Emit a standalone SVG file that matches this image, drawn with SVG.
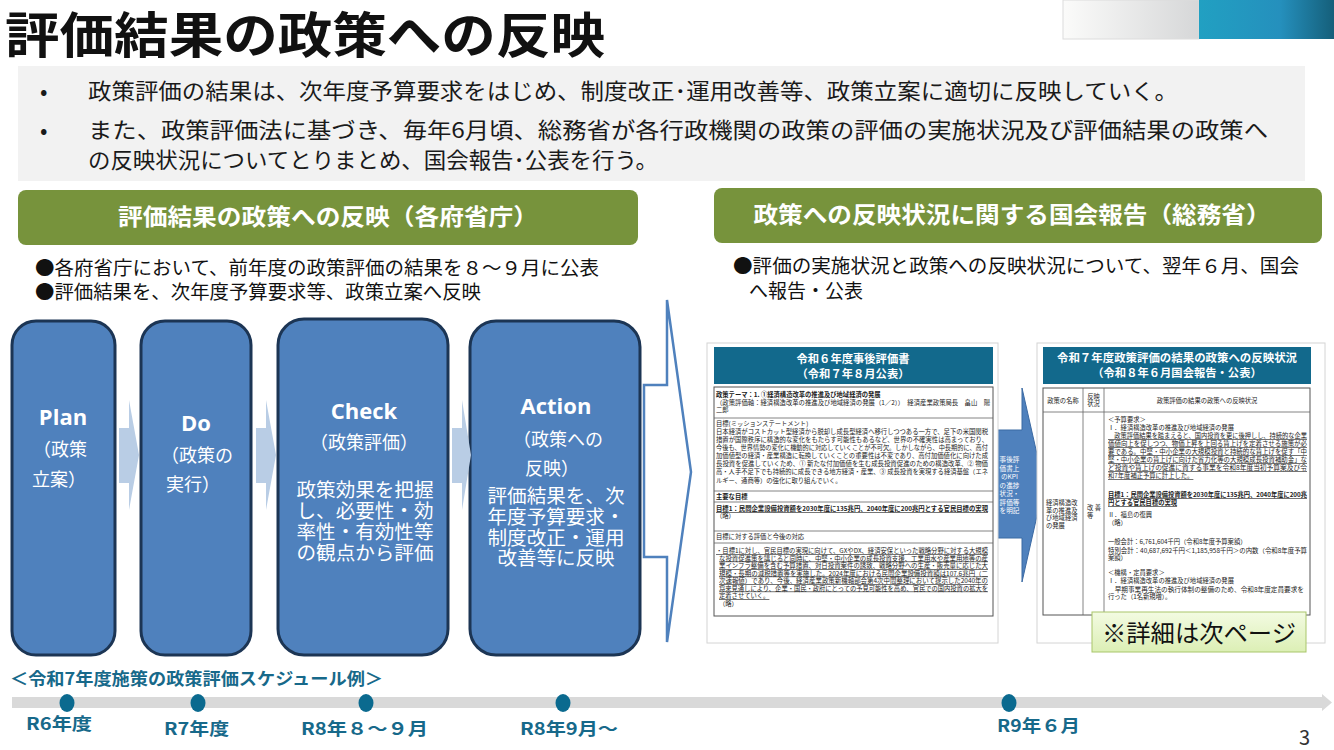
<svg xmlns="http://www.w3.org/2000/svg" width="1334" height="750" viewBox="0 0 1334 750">
<defs>
<linearGradient id="gL" x1="0" x2="1"><stop offset="0" stop-color="#fbfbfa"/><stop offset="1" stop-color="#d6d7d8"/></linearGradient>
<linearGradient id="gR" x1="0" x2="1"><stop offset="0" stop-color="#21a0c2"/><stop offset="0.6" stop-color="#2590bd"/><stop offset="1" stop-color="#155f7a"/></linearGradient>
<linearGradient id="gG" x1="0" y1="0" x2="0" y2="1"><stop offset="0" stop-color="#f3fbe2"/><stop offset="1" stop-color="#dcefb5"/></linearGradient>
<style>
text{font-family:"Noto Sans CJK JP","Noto Sans",sans-serif}
.b{font-weight:bold}
.pbox{fill:#4f81bd;stroke:#1c3554;stroke-width:3}
.pa{fill:#b9cde5}
.pt{fill:#fff;font-size:18px}
.pe{fill:#fff;font-size:22px;font-weight:bold;font-family:"Open Sans","Noto Sans",sans-serif}
.pb{fill:#fff;font-size:19px}
.hd{fill:#77933c}
.hdt{fill:#fff;font-size:23px;font-weight:bold}
.bl{font-size:19px;fill:#111}
.sm{font-size:22px;fill:#1a1a1a}
.tl{fill:#17698a;font-weight:bold;font-size:17px}
.dot{fill:#0b6a8f}
.doc{fill:#fff;stroke:#555;stroke-width:1}
.frame{fill:#fff;stroke:#d4d4d4;stroke-width:1}
.dh{fill:#12698c}
.dht{fill:#fff;font-size:11.3px;font-weight:bold}
.s{font-size:6.3px;fill:#222}
.ln{stroke:#666;stroke-width:0.8}
.u{text-decoration:underline}
</style>
</defs>

<!-- top bar -->
<g id="topbar">
<rect x="1063" y="0" width="136" height="39" fill="url(#gL)" stroke="#dcdcdc" stroke-width="1"/>
<rect x="1199" y="0" width="135" height="39" fill="url(#gR)"/>
</g>

<g id="title">
<text x="5" y="53" font-size="49" class="b" fill="#111" textLength="600" lengthAdjust="spacingAndGlyphs">評価結果の政策への反映</text>
</g>

<g id="summary">
<rect x="18" y="66" width="1287" height="115" fill="#f2f2f2"/>
<text x="40" y="99" class="sm">•</text>
<text x="88" y="99" class="sm" textLength="1090" lengthAdjust="spacingAndGlyphs">政策評価の結果は、次年度予算要求をはじめ、制度改正･運用改善等、政策立案に適切に反映していく。</text>
<text x="40" y="138" class="sm">•</text>
<text x="88" y="138" class="sm" textLength="1180" lengthAdjust="spacingAndGlyphs">また、政策評価法に基づき、毎年6月頃、総務省が各行政機関の政策の評価の実施状況及び評価結果の政策へ</text>
<text x="88" y="168" class="sm" textLength="570" lengthAdjust="spacingAndGlyphs">の反映状況についてとりまとめ、国会報告･公表を行う。</text>
</g>

<g id="header-left">
<rect x="18" y="190" width="620" height="55" rx="8" class="hd"/>
<text x="328" y="225" class="hdt" text-anchor="middle" textLength="420" lengthAdjust="spacingAndGlyphs">評価結果の政策への反映（各府省庁）</text>
<text x="35" y="275" class="bl" textLength="564" lengthAdjust="spacingAndGlyphs">●各府省庁において、前年度の政策評価の結果を８～９月に公表</text>
<text x="35" y="299" class="bl" textLength="446" lengthAdjust="spacingAndGlyphs">●評価結果を、次年度予算要求等、政策立案へ反映</text>
</g>

<g id="header-right">
<rect x="714" y="188" width="608" height="55" rx="8" class="hd"/>
<text x="1012" y="223" class="hdt" text-anchor="middle" textLength="517" lengthAdjust="spacingAndGlyphs">政策への反映状況に関する国会報告（総務省）</text>
<text x="733" y="273" class="bl" textLength="566" lengthAdjust="spacingAndGlyphs">●評価の実施状況と政策への反映状況について、翌年６月、国会</text>
<text x="749" y="298" class="bl">へ報告・公表</text>
</g>

<!-- PDCA -->
<g id="plan">
<rect x="12" y="321" width="103" height="334" rx="24" class="pbox"/>
<text x="63" y="425" class="pe" text-anchor="middle">Plan</text>
<text x="33" y="456" class="pt">（政策</text>
<text x="32" y="486" class="pt">立案）</text>
</g>
<g id="do">
<rect x="141" y="321" width="110" height="334" rx="24" class="pbox"/>
<text x="196" y="431" class="pe" text-anchor="middle">Do</text>
<text x="161" y="462" class="pt">（政策の</text>
<text x="166" y="491" class="pt">実行）</text>
</g>
<g id="check">
<rect x="278" y="319" width="170" height="336" rx="26" class="pbox"/>
<text x="364" y="419" class="pe" text-anchor="middle">Check</text>
<text x="364" y="449" class="pt" text-anchor="middle">（政策評価）</text>
<text x="365" y="497" class="pb" text-anchor="middle" textLength="137" lengthAdjust="spacingAndGlyphs">政策効果を把握</text>
<text x="365" y="518" class="pb" text-anchor="middle" textLength="137" lengthAdjust="spacingAndGlyphs">し、必要性・効</text>
<text x="365" y="539" class="pb" text-anchor="middle" textLength="137" lengthAdjust="spacingAndGlyphs">率性・有効性等</text>
<text x="365" y="560" class="pb" text-anchor="middle" textLength="137" lengthAdjust="spacingAndGlyphs">の観点から評価</text>
</g>
<g id="action">
<rect x="470" y="321" width="170" height="334" rx="26" class="pbox"/>
<text x="556" y="414" class="pe" text-anchor="middle">Action</text>
<text x="513" y="446" class="pt">（政策への</text>
<text x="525" y="475" class="pt">反映）</text>
<text x="556" y="503" class="pb" text-anchor="middle" textLength="137" lengthAdjust="spacingAndGlyphs">評価結果を、次</text>
<text x="556" y="524" class="pb" text-anchor="middle" textLength="137" lengthAdjust="spacingAndGlyphs">年度予算要求・</text>
<text x="556" y="545" class="pb" text-anchor="middle" textLength="137" lengthAdjust="spacingAndGlyphs">制度改正・運用</text>
<text x="556" y="565" class="pb" text-anchor="middle" textLength="117" lengthAdjust="spacingAndGlyphs">改善等に反映</text>
</g>

<g id="connectors">
<polygon class="pa" points="119,428 129,428 129,400 139,455 129,510 129,483 119,483"/>
<polygon class="pa" points="256,428 266,428 266,400 276,455 266,510 266,483 256,483"/>
<polygon class="pa" points="452,428 462,428 462,400 471,455 462,510 462,483 452,483"/>
<polygon points="644,385 667,385 667,300 691,472 667,642 667,557 644,557" fill="#fff" stroke="#4f81bd" stroke-width="2.5"/>
<polygon points="997,430 1022,430 1022,388 1044,485 1022,582 1022,538 997,538" fill="#4f81bd" stroke="#3b6aa3" stroke-width="1"/>
<g fill="#fff" font-size="6.6" text-anchor="middle">
<text x="1009.5" y="462">事後評</text>
<text x="1009.5" y="470.5">価書上</text>
<text x="1009.5" y="479">のKPI</text>
<text x="1009.5" y="487.5">の進捗</text>
<text x="1009.5" y="496">状況・</text>
<text x="1009.5" y="504.5">評価等</text>
<text x="1009.5" y="513">を明記</text>
</g>
</g>

<!-- left document -->
<g id="doc-left">
<rect x="707" y="343" width="291" height="300" class="frame"/>
<rect x="714" y="347" width="279" height="37" class="dh"/>
<text x="853" y="363" class="dht" text-anchor="middle">令和６年度事後評価書</text>
<text x="853" y="378" class="dht" text-anchor="middle">（令和７年８月公表）</text>
<rect x="714" y="387" width="279" height="229" class="doc"/>
<line x1="714" y1="418" x2="993" y2="418" class="ln"/>
<line x1="714" y1="491" x2="993" y2="491" class="ln"/>
<line x1="714" y1="502" x2="993" y2="502" class="ln"/>
<line x1="714" y1="531" x2="993" y2="531" class="ln"/>
<line x1="714" y1="543" x2="993" y2="543" class="ln"/>
<text x="716" y="397" class="s b">政策テーマ：1. ①経済構造改革の推進及び地域経済の発展</text>
<text x="716" y="405" class="s" textLength="274" lengthAdjust="spacingAndGlyphs">（政策評価軸：経済構造改革の推進及び地域経済の発展（1／2））　経済産業政策局長　畠山　陽</text>
<text x="716" y="412" class="s">二郎</text>
<text x="716" y="426" class="s">目標(ミッションステートメント)</text>
<text x="716" y="434" class="s" textLength="272" lengthAdjust="spacingAndGlyphs">日本経済がコストカット型経済から脱却し成長型経済へ移行しつつある一方で、足下の米国関税</text>
<text x="716" y="442" class="s" textLength="272" lengthAdjust="spacingAndGlyphs">措置が国際秩序に構造的な変化をもたらす可能性もあるなど、世界の不確実性は高まっており、</text>
<text x="716" y="450" class="s" textLength="272" lengthAdjust="spacingAndGlyphs">今後も、世界情勢の変化に機動的に対応していくことが不可欠。しかしながら、中長期的に、高付</text>
<text x="716" y="458" class="s" textLength="272" lengthAdjust="spacingAndGlyphs">加価値型の経済・産業構造に転換していくことの重要性は不変であり、高付加価値化に向けた成</text>
<text x="716" y="466" class="s" textLength="272" lengthAdjust="spacingAndGlyphs">長投資を促進していくため、① 新たな付加価値を生む成長投資促進のための構造改革、② 物価</text>
<text x="716" y="474" class="s" textLength="272" lengthAdjust="spacingAndGlyphs">高・人手不足下でも持続的に成長できる地方経済・産業、③ 成長投資を実現する経済基盤（エネ</text>
<text x="716" y="483" class="s">ルギー、通商等）の強化に取り組んでいく。</text>
<text x="716" y="499" class="s b">主要な目標</text>
<text x="716" y="511" class="s b u" textLength="272" lengthAdjust="spacingAndGlyphs">目標1：民間企業設備投資額を2030年度に135兆円、2040年度に200兆円とする官民目標の実現</text>
<text x="716" y="518" class="s">（略）</text>
<text x="716" y="539" class="s">目標に対する評価と今後の対応</text>
<text x="716" y="553" class="s u" textLength="272" lengthAdjust="spacingAndGlyphs">・目標1に対し、官民目標の実現に向けて、GXやDX、経済安保といった戦略分野に対する大規模</text>
<text x="719" y="560.5" class="s u" textLength="269" lengthAdjust="spacingAndGlyphs">な投資促進策を講じると同時に、中堅・中小企業の成長投資支援、工業用水や産業用地等の産</text>
<text x="719" y="568" class="s u" textLength="269" lengthAdjust="spacingAndGlyphs">業インフラ整備を含む予算措置、対日投資案件の誘致、戦略分野への生産・販売量に応じた大</text>
<text x="719" y="575.5" class="s u" textLength="269" lengthAdjust="spacingAndGlyphs">規模・長期の減税措置等を実施した。2024年度における民間企業設備投資額は107.6兆円（二</text>
<text x="719" y="583" class="s u" textLength="269" lengthAdjust="spacingAndGlyphs">次速報値）であり、今後、経済産業政策新機軸部会第4次中間整理において提示した2040年の</text>
<text x="719" y="590.5" class="s u" textLength="269" lengthAdjust="spacingAndGlyphs">将来見通しにより、企業・国民・政府にとっての予見可能性を高め、官民での国内投資の拡大を</text>
<text x="719" y="598" class="s u">定着させていく。</text>
<text x="719" y="606" class="s">（略）</text>
</g>

<!-- right document -->
<g id="doc-right">
<rect x="1037" y="343" width="288" height="300" class="frame"/>
<rect x="1043" y="347" width="268" height="37" class="dh"/>
<text x="1177" y="362" class="dht" text-anchor="middle" textLength="240" lengthAdjust="spacingAndGlyphs">令和７年度政策評価の結果の政策への反映状況</text>
<text x="1177" y="377" class="dht" text-anchor="middle">（令和８年６月国会報告・公表）</text>
<rect x="1043" y="388" width="267" height="227" class="doc"/>
<line x1="1043" y1="412" x2="1310" y2="412" class="ln"/>
<line x1="1083" y1="388" x2="1083" y2="615" class="ln"/>
<line x1="1104" y1="388" x2="1104" y2="615" class="ln"/>
<text x="1063" y="403" class="s" text-anchor="middle">政策の名称</text>
<text x="1093.5" y="399" class="s" text-anchor="middle">反映</text>
<text x="1093.5" y="406" class="s" text-anchor="middle">状況</text>
<text x="1207" y="403" class="s" text-anchor="middle">政策評価の結果の政策への反映状況</text>
<text x="1046" y="505" class="s">経済構造改</text>
<text x="1046" y="512.5" class="s">革の推進及</text>
<text x="1046" y="520" class="s">び地域経済</text>
<text x="1046" y="527.5" class="s">の発展</text>
<text x="1087" y="510" class="s">改 善</text>
<text x="1087" y="517.5" class="s">等</text>
<text x="1108" y="422" class="s">＜予算要求＞</text>
<text x="1108" y="430" class="s">Ⅰ．経済構造改革の推進及び地域経済の発展</text>
<text x="1108" y="438" class="s u" textLength="199" lengthAdjust="spacingAndGlyphs">　政策評価結果を踏まえると、国内投資を更に後押しし、持続的な企業</text>
<text x="1108" y="446" class="s u" textLength="199" lengthAdjust="spacingAndGlyphs">価値向上を促しつつ、物価上昇を上回る賃上げを定着させる施策が必</text>
<text x="1108" y="454" class="s u" textLength="199" lengthAdjust="spacingAndGlyphs">要である。中堅・中小企業の大規模投資と持続的な賃上げを促す「中</text>
<text x="1108" y="462" class="s u" textLength="199" lengthAdjust="spacingAndGlyphs">堅・中小企業の賃上げに向けた省力化等の大規模成長投資補助金」な</text>
<text x="1108" y="470" class="s u" textLength="199" lengthAdjust="spacingAndGlyphs">ど投資や賃上げの促進に資する事業を令和8年度当初予算案及び令</text>
<text x="1108" y="478" class="s u">和7年度補正予算に計上した。</text>
<text x="1108" y="497" class="s b u" textLength="199" lengthAdjust="spacingAndGlyphs">目標1：民間企業設備投資額を2030年度に135兆円、2040年度に200兆</text>
<text x="1108" y="505" class="s b u">円とする官民目標の実現</text>
<text x="1108" y="517" class="s">Ⅱ．福島の復興</text>
<text x="1108" y="524.5" class="s">（略）</text>
<text x="1108" y="544" class="s">一般会計：6,761,604千円（令和8年度予算案額）</text>
<text x="1108" y="552.5" class="s" textLength="199" lengthAdjust="spacingAndGlyphs">特別会計：40,687,692千円＜1,185,958千円＞の内数（令和8年度予算</text>
<text x="1108" y="560" class="s">案額）</text>
<text x="1108" y="575" class="s">＜機構・定員要求＞</text>
<text x="1108" y="583" class="s">Ⅰ．経済構造改革の推進及び地域経済の発展</text>
<text x="1108" y="591.5" class="s" textLength="196" lengthAdjust="spacingAndGlyphs">　早期事業再生法の執行体制の整備のため、令和8年度定員要求を</text>
<text x="1108" y="599" class="s">行った（1名新規増）。</text>
</g>

<g id="note">
<rect x="1092" y="612" width="214" height="40" fill="url(#gG)" stroke="#a9c66a" stroke-width="1"/>
<text x="1102" y="642" font-size="24" fill="#111" textLength="194" lengthAdjust="spacingAndGlyphs">※詳細は次ページ</text>
</g>

<!-- timeline -->
<g id="timeline">
<text x="10" y="685" class="tl" textLength="373" lengthAdjust="spacingAndGlyphs">＜令和7年度施策の政策評価スケジュール例＞</text>
<polygon points="12,697 1322,697 1322,694 1332,702.5 1322,711 1322,708 12,708" fill="#d9d9d9"/>
<ellipse cx="67" cy="703" rx="7.5" ry="9" class="dot"/>
<ellipse cx="198" cy="703" rx="7.5" ry="9" class="dot"/>
<ellipse cx="366" cy="703" rx="7.5" ry="9" class="dot"/>
<ellipse cx="563" cy="703" rx="7.5" ry="9" class="dot"/>
<ellipse cx="1009" cy="703" rx="7.5" ry="9" class="dot"/>
<text x="26" y="730" class="tl" textLength="66" lengthAdjust="spacingAndGlyphs">R6年度</text>
<text x="164" y="735" class="tl" textLength="65" lengthAdjust="spacingAndGlyphs">R7年度</text>
<text x="301" y="735" class="tl" textLength="127" lengthAdjust="spacingAndGlyphs">R8年８～９月</text>
<text x="520" y="735" class="tl" textLength="98" lengthAdjust="spacingAndGlyphs">R8年9月～</text>
<text x="997" y="732" class="tl" textLength="83" lengthAdjust="spacingAndGlyphs">R9年６月</text>
</g>

<text x="1299" y="745" font-size="20" fill="#333" font-family="Liberation Sans, sans-serif">3</text>
</svg>
